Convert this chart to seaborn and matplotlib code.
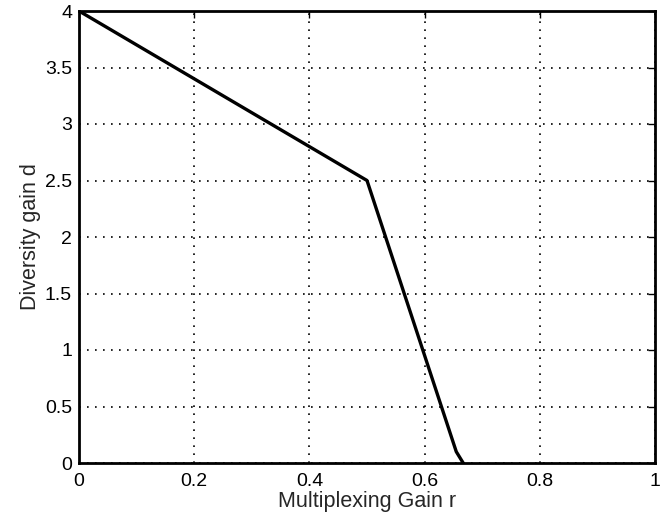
import matplotlib
matplotlib.use("Agg")
import matplotlib.pyplot as plt
import seaborn as sns
import pandas as pd

r_vals = [0.0, 0.5, 0.655, 0.667]
d_vals = [4.0, 2.5, 0.1, 0.0]
x_ticks = [0, 0.2, 0.4, 0.6, 0.8, 1]
x_labels = ["0", "0.2", "0.4", "0.6", "0.8", "1"]
y_ticks = [0, 0.5, 1, 1.5, 2, 2.5, 3, 3.5, 4]
y_labels = ["0", "0.5", "1", "1.5", "2", "2.5", "3", "3.5", "4"]

sns.set_style("white")
plt.rcParams['font.family'] = ['Liberation Sans', 'DejaVu Sans']
plt.rcParams['font.size'] = 14

df = pd.DataFrame({"r": r_vals, "d": d_vals})

fig = plt.figure(figsize=(6.65, 5.18), dpi=100)
ax = fig.add_axes([79/665, 55/518, 576/665, 452/518])
sns.lineplot(data=df, x="r", y="d", ax=ax, color="black", linewidth=2.4, sort=False)

ax.set_xlim(0, 1)
ax.set_ylim(0, 4)
ax.set_xticks(x_ticks)
ax.set_xticklabels(x_labels)
ax.set_yticks(y_ticks)
ax.set_yticklabels(y_labels)
ax.grid(True, linestyle=(0, (1, 3.8)), color="black", linewidth=1.2)
ax.tick_params(direction="in", length=5, width=1.0, colors="black", labelsize=14,
               top=True, right=True)
ax.tick_params(axis="x", pad=7)
ax.tick_params(axis="y", pad=5)
for s in ax.spines.values():
    s.set_linewidth(2.0)
    s.set_color("black")
ax.set_xlabel("Multiplexing Gain r", fontsize=15.5, labelpad=1)
ax.set_ylabel("Diversity gain d", fontsize=15.5, labelpad=3)

fig.savefig("out.png", dpi=100)
